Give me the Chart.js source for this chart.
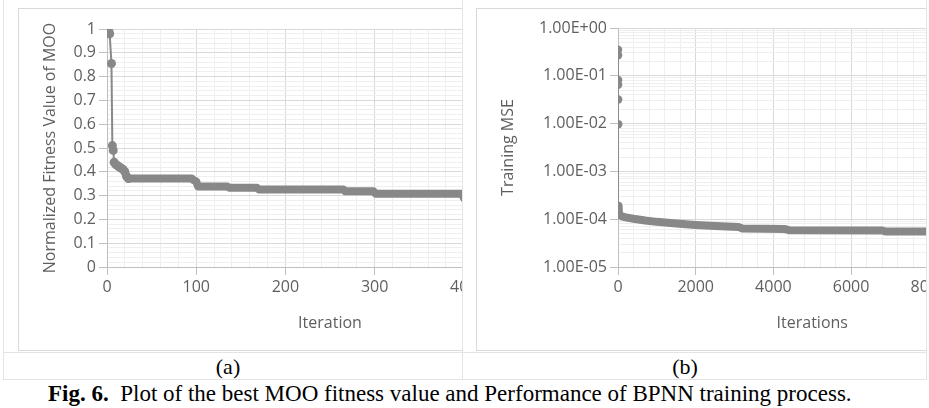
<!DOCTYPE html>
<html>
<head>
<meta charset="utf-8">
<script src="https://cdn.jsdelivr.net/npm/chart.js@4"></script>
<style>
body{margin:0;background:#fff;width:929px;height:408px;position:relative;overflow:hidden;}
.clip{position:absolute;overflow:hidden;}
.panel{position:absolute;border:1px solid #d9d9d9;border-right:none;box-sizing:border-box;}
.ln{position:absolute;background:#e4e4e4;}
.cap{position:absolute;font-family:"Liberation Serif",serif;color:#000;white-space:nowrap;line-height:1;}
</style>
</head>
<body>

<!-- table lines -->
<div class="ln" style="left:3px;top:0;width:1px;height:380px"></div>
<div class="ln" style="left:462px;top:0;width:1px;height:380px"></div>
<div class="ln" style="left:926px;top:0;width:1px;height:380px"></div>
<div class="ln" style="left:3px;top:352px;width:924px;height:1px"></div>
<div class="ln" style="left:3px;top:379px;width:924px;height:1px"></div>

<div class="panel" style="left:18px;top:8px;width:444px;height:343px"></div>
<div class="panel" style="left:476px;top:8px;width:450px;height:343px"></div>

<div class="clip" style="left:18px;top:8px;width:444px;height:342px">
  <canvas id="chartA" width="560" height="342"></canvas>
</div>
<div class="clip" style="left:476px;top:8px;width:450px;height:342px">
  <canvas id="chartB" width="560" height="342"></canvas>
</div>

<div class="cap" style="left:228px;top:356px;font-size:22px;transform:translateX(-50%)">(a)</div>
<div class="cap" style="left:685px;top:356px;font-size:22px;transform:translateX(-50%)">(b)</div>
<div class="cap" style="left:48px;top:382px;font-size:23px"><b>Fig. 6.</b>&nbsp; Plot of the best MOO fitness value and Performance of BPNN training process.</div>

<script>
// ================= DATA =================
// (a) best MOO fitness per iteration (step points)
const iterA = [1, 2, 3, 5, 6, 7, 8, 10, 12, 14, 16, 18, 20, 22, 24, 95, 97, 100, 102, 135, 137, 168, 170, 265, 267, 299, 301, 398, 400];
const fitA  = [1.0, 0.99, 0.98, 0.855, 0.51, 0.49, 0.44, 0.43, 0.425, 0.42, 0.415, 0.41, 0.40, 0.38, 0.372, 0.372, 0.365, 0.36, 0.338, 0.338, 0.333, 0.333, 0.326, 0.326, 0.318, 0.318, 0.308, 0.308, 0.29];

// (b) BPNN training MSE
const iterB = [1, 2, 3, 4, 5, 6, 7, 8, 10, 15, 30, 60, 100, 200, 400, 700, 1000, 1500, 2000, 2500, 3100, 3200, 4300, 4400, 6800, 6900, 8100];
const mseB  = [0.35, 0.27, 0.082, 0.065, 0.032, 0.0097, 1.9e-4, 1.65e-4, 1.5e-4, 1.38e-4, 1.28e-4, 1.2e-4, 1.15e-4, 1.09e-4, 1.02e-4, 9.4e-5, 8.8e-5, 8.1e-5, 7.6e-5, 7.2e-5, 6.9e-5, 6.4e-5, 6.2e-5, 5.9e-5, 5.8e-5, 5.5e-5, 5.5e-5];

// tick labels
const xTicksA = [0, 100, 200, 300, 400, 500];
const yTicksA = [0, 0.1, 0.2, 0.3, 0.4, 0.5, 0.6, 0.7, 0.8, 0.9, 1];
const xTicksB = [0, 2000, 4000, 6000, 8000, 10000];
const yTicksB = [1e-5, 1e-4, 1e-3, 1e-2, 1e-1, 1];

const GRAY = "#888888";
const MAJOR = "#d9d9d9";
const MINOR = "#efefef";
const TXT = "#5f5f5f";

// ================= HELPERS =================
function linMinors(majors, parts){
  let out = [];
  for(let i=0;i<majors.length-1;i++){
    let a = majors[i], b = majors[i+1];
    for(let k=0;k<parts;k++) out.push(Math.round((a + (b-a)*k/parts)*1e6)/1e6);
  }
  out.push(majors[majors.length-1]);
  return out;
}

function logMinors(majors){
  let out = [];
  for(let i=0;i<majors.length-1;i++){
    for(let m=1;m<10;m++) out.push(majors[i]*m);
  }
  out.push(majors[majors.length-1]);
  return out;
}

function isIn(list, v){
  return list.some(t => Math.abs(t - v) <= Math.abs(t)*1e-6 + 1e-9);
}

function sci(v){
  const e = Math.round(Math.log10(v));
  return "1.00E" + (e < 0 ? "-" : "+") + String(Math.abs(e)).padStart(2, "0");
}

function axis(majors, all, fmt, opts){
  return Object.assign({
    afterBuildTicks: s => { s.ticks = all.map(v => ({value: v})); },
    grid: {
      color: c => isIn(majors, c.tick.value) ? MAJOR : MINOR,
      tickColor: c => isIn(majors, c.tick.value) ? "#bfbfbf" : "rgba(0,0,0,0)",
      lineWidth: 1
    },
    border: {color: "#bfbfbf"},
    ticks: {
      autoSkip: false,
      maxRotation: 0,
      color: TXT,
      font: {family: "Open Sans", size: 16},
      callback: v => isIn(majors, v) ? fmt(v) : ""
    }
  }, opts);
}

function title(text){
  return {display: true, text: text, color: TXT, font: {family: "Open Sans", size: 16}};
}

// ================= CHART (a) =================
const ptsA = iterA.map((x,i) => ({x: x, y: fitA[i]}));

new Chart(document.getElementById("chartA"), {
  type: "line",
  data: {
    datasets: [{
      data: ptsA,
      borderColor: GRAY,
      backgroundColor: GRAY,
      pointBackgroundColor: GRAY,
      pointBorderWidth: 0,
      pointRadius: c => c.dataIndex < 15 ? 4.5 : 0,
      borderWidth: 2,
      borderCapStyle: "round",
      borderJoinStyle: "round",
      segment: {
        borderWidth: c => (c.p0.parsed.y < 0.45 && c.p1.parsed.y < 0.45) ? 8 : 2
      },
      tension: 0
    }]
  },
  options: {
    responsive: false,
    animation: false,
    layout: {autoPadding: false, padding: {top: 21, bottom: 13, left: 0, right: 25}},
    plugins: {legend: {display: false}, tooltip: {enabled: false}},
    scales: {
      x: axis(xTicksA, linMinors(xTicksA, 5), v => String(v), {
        type: "linear", min: 0, max: 500,
        afterFit: s => { s.height = 70; },
        title: Object.assign(title("Iteration"), {padding: {top: 4, bottom: 4}})
      }),
      y: axis(yTicksA, linMinors(yTicksA, 5), v => String(Math.round(v*10)/10), {
        type: "linear", min: 0, max: 1,
        afterFit: s => { s.width = 89; },
        title: Object.assign(title("Normalized Fitness Value of MOO"), {padding: {top: 22.4, bottom: 4}})
      })
    }
  }
});

// ================= CHART (b) =================
const ptsB = iterB.map((x,i) => ({x: x, y: mseB[i]}));

new Chart(document.getElementById("chartB"), {
  type: "line",
  data: {
    datasets: [{
      data: ptsB,
      borderColor: GRAY,
      backgroundColor: GRAY,
      pointBackgroundColor: GRAY,
      pointBorderWidth: 0,
      pointRadius: c => c.dataIndex < 10 ? 4.2 : 0,
      borderWidth: 1.5,
      borderCapStyle: "round",
      borderJoinStyle: "round",
      segment: {
        borderWidth: c => (c.p0.parsed.y < 1e-3 && c.p1.parsed.y < 1e-3) ? 8 : 1.5
      },
      tension: 0
    }]
  },
  options: {
    responsive: false,
    animation: false,
    layout: {autoPadding: false, padding: {top: 20, bottom: 13, left: 0, right: 29.5}},
    plugins: {legend: {display: false}, tooltip: {enabled: false}},
    scales: {
      x: axis(xTicksB, linMinors(xTicksB, 5), v => String(v), {
        type: "linear", min: 0, max: 10000,
        afterFit: s => { s.height = 70; },
        title: Object.assign(title("Iterations"), {padding: {top: 4, bottom: 4}})
      }),
      y: axis(yTicksB, logMinors(yTicksB), sci, {
        type: "logarithmic", min: 1e-5, max: 1,
        afterFit: s => { s.width = 142; },
        title: Object.assign(title("Training MSE"), {padding: {top: 22.4, bottom: 4}})
      })
    }
  }
});
</script>
</body>
</html>
